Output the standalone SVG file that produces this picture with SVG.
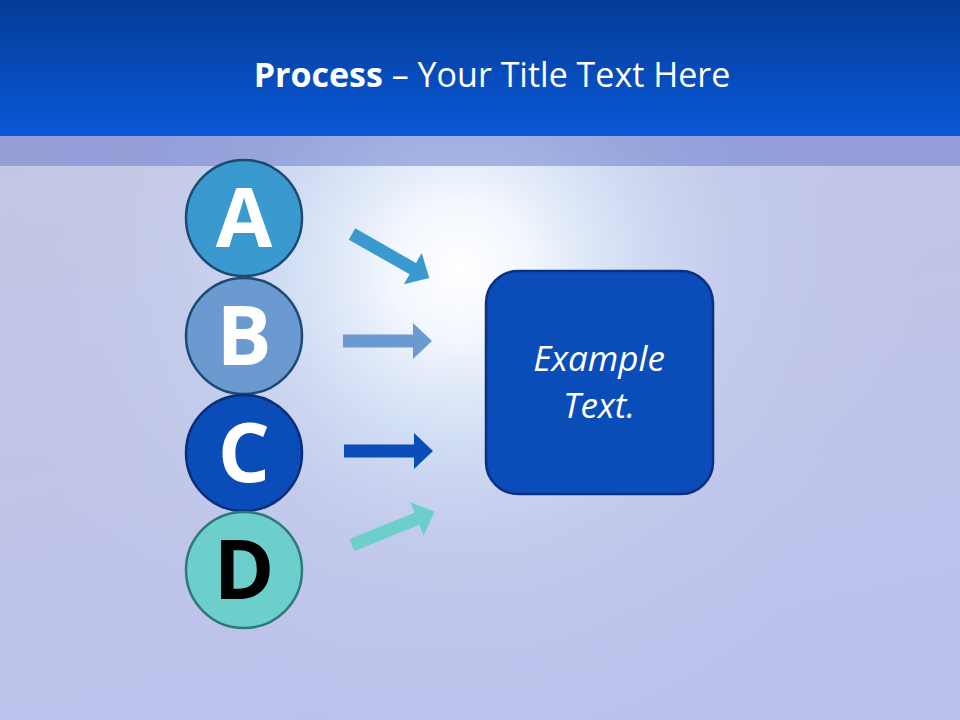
<svg xmlns="http://www.w3.org/2000/svg" width="960" height="720" viewBox="0 0 960 720">
<defs>
<linearGradient id="hdr" x1="0" y1="0" x2="0" y2="1">
<stop offset="0" stop-color="#043c98"/>
<stop offset="1" stop-color="#0958d6"/>
</linearGradient>
<linearGradient id="bg" x1="0" y1="0" x2="0.3" y2="1">
<stop offset="0" stop-color="#c6c8e2"/>
<stop offset="1" stop-color="#bcc2ec"/>
</linearGradient>
<radialGradient id="glow" cx="460" cy="270" r="470" gradientUnits="userSpaceOnUse">
<stop offset="0" stop-color="#ffffff" stop-opacity="1"/>
<stop offset="0.15" stop-color="#f4f8fe" stop-opacity="0.97"/>
<stop offset="0.35" stop-color="#d8e6f8" stop-opacity="0.8"/>
<stop offset="0.6" stop-color="#c8d4f0" stop-opacity="0.4"/>
<stop offset="1" stop-color="#c4c8e8" stop-opacity="0"/>
</radialGradient>
<style>
.circ{stroke-width:2.5}
.letter{font-family:"Open Sans","Noto Sans",sans-serif;font-weight:bold;font-size:82px;text-anchor:middle}
.title{font-family:"Open Sans","Noto Sans",sans-serif;font-size:34px;fill:#ffffff;text-anchor:middle}
.box-text{font-family:"Open Sans","Noto Sans",sans-serif;font-style:italic;font-size:35px;fill:#ffffff;text-anchor:middle}
</style>
<path id="arr" d="M0,-6.5 L70,-6.5 L70,-18 L89,0 L70,18 L70,6.5 L0,6.5 Z"/>
</defs>
<rect x="0" y="0" width="960" height="720" fill="url(#bg)"/>
<rect x="0" y="0" width="960" height="720" fill="url(#glow)"/>
<rect x="0" y="136" width="960" height="30" fill="#5c6cc8" opacity="0.45"/>
<rect x="0" y="0" width="960" height="136" fill="url(#hdr)"/>
<text class="title" x="492" y="87"><tspan font-weight="bold">Process</tspan> – Your Title Text Here</text>

<g id="connectors">
<use href="#arr" transform="translate(352,234) rotate(29.7)" fill="#3a9ad0"/>
<use href="#arr" transform="translate(343,341)" fill="#6a9ad0"/>
<use href="#arr" transform="translate(344,451)" fill="#0a4cb8"/>
<use href="#arr" transform="translate(352,545) rotate(-22)" fill="#6ccfcc"/>
</g>

<g id="node-a">
<circle class="circ" cx="244" cy="218" r="58" fill="#3a9ad0" stroke="#1d4a72"/>
<text class="letter" x="244" y="247" fill="#ffffff">A</text>
</g>
<g id="node-b">
<circle class="circ" cx="244" cy="336" r="58" fill="#6a9ad0" stroke="#1d4a72"/>
<text class="letter" x="244" y="365" fill="#ffffff">B</text>
</g>
<g id="node-c">
<circle class="circ" cx="244" cy="453" r="58" fill="#0a4cb8" stroke="#0a2e78"/>
<text class="letter" x="244" y="482" fill="#ffffff">C</text>
</g>
<g id="node-d">
<circle class="circ" cx="244" cy="570" r="58" fill="#6ccfcc" stroke="#2e7878"/>
<text class="letter" x="244" y="599" fill="#000000">D</text>
</g>
<g id="node-box">
<rect x="486" y="271" width="227" height="223" rx="32" ry="32" fill="#0a4cb8" stroke="#0a3080" stroke-width="2.5"/>
<text class="box-text" x="599" y="371">Example</text>
<text class="box-text" x="599" y="418">Text.</text>
</g>
</svg>
